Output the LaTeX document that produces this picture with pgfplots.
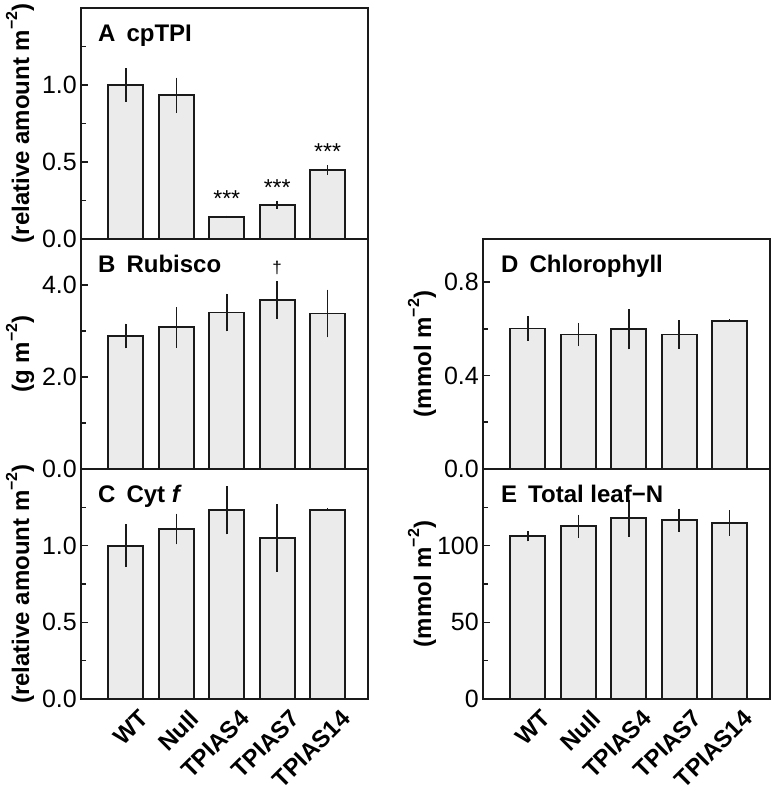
\documentclass[border=0pt]{standalone}
\usepackage{pgfplots}
\pgfplotsset{compat=1.18}
\usepackage{pgfplotstable}
\usepackage{fontspec}
\setmainfont{Liberation Sans}
\definecolor{barfill}{HTML}{EBEBEB}
\definecolor{ink}{HTML}{1A1A1A}

\pgfplotstableread{
x y e
0 1.000 0.110
1 0.933 0.115
2 0.143 0.008
3 0.223 0.025
4 0.448 0.032
}\dataA
\pgfplotstableread{
x y e
0 2.89 0.27
1 3.08 0.44
2 3.40 0.41
3 3.67 0.41
4 3.38 0.52
}\dataB
\pgfplotstableread{
x y e
0 1.000 0.140
1 1.109 0.100
2 1.230 0.157
3 1.050 0.220
4 1.235 0.008
}\dataC
\pgfplotstableread{
x y e
0 0.602 0.052
1 0.576 0.050
2 0.598 0.086
3 0.576 0.060
4 0.635 0.006
}\dataD
\pgfplotstableread{
x y e
0 106.1 3.3
1 112.6 7.5
2 117.8 12.0
3 116.5 7.6
4 114.8 8.2
}\dataE

\tikzset{
  ttl/.style={anchor=base west, inner sep=0pt, font=\bfseries\fontsize{24}{24}\selectfont},
  stars/.style={anchor=base, inner sep=0pt, font=\fontsize{23}{23}\selectfont},
}
\pgfplotsset{
  panel/.style={
    scale only axis, width=287pt, height=230pt,
    anchor=south west,
    xmin=-0.89, xmax=4.80, ymin=0,
    axis line style={line width=1.9pt, ink},
    tick align=inside, ytick pos=left, xtick pos=bottom,
    major tick length=7pt, minor tick length=4.5pt,
    tick style={line width=1.6pt, ink},
    yticklabel style={font=\fontsize{25}{25}\selectfont, inner xsep=0pt, xshift=-4pt},
    /pgf/number format/assume math mode=true,
    xtick=\empty,
    ybar, bar width=35pt,
    clip=false, axis on top,
  },
  xlabs/.style={
    xtick={0,1,2,3,4},
    xticklabels={WT,Null,TPIAS4,TPIAS7,TPIAS14},
    xtick style={draw=none},
    xticklabel style={rotate=45, anchor=north east, inner sep=0pt,
      font=\bfseries\fontsize{24}{24}\selectfont, xshift=7pt, yshift=-10pt},
  },
  barstyle/.style={fill=barfill, draw=ink, line width=1.8pt,
    error bars/.cd, y dir=both, y explicit, error mark=none,
    error bar style={line width=1.6pt, ink}},
}

\begin{document}
\begin{tikzpicture}
\useasboundingbox (0pt,0pt) rectangle (775pt,792pt);

% Panel A
\begin{axis}[panel, at={(81pt,553pt)}, height=231pt, ymax=1.5,
  ytick={0,0.5,1.0}, yticklabels={0.0,0.5,1.0}, minor ytick={0.25,0.75,1.25}]
\addplot[barstyle] table[x=x,y=y,y error=e]{\dataA};
\node[ttl] at (rel axis cs:0,1) [xshift=17pt, yshift=-34pt] {A\hspace{11pt}cpTPI};
\node[stars] at (axis cs:2,0.214) {***};
\node[stars] at (axis cs:3,0.282) {***};
\node[stars] at (axis cs:4,0.515) {***};
\end{axis}

% Panel B
\begin{axis}[panel, at={(81pt,323pt)}, ymax=5,
  ytick={0,2,4}, yticklabels={0.0,2.0,4.0}, minor ytick={1,3}]
\addplot[barstyle] table[x=x,y=y,y error=e]{\dataB};
\node[ttl] at (rel axis cs:0,1) [xshift=17pt, yshift=-34pt] {B\hspace{11pt}Rubisco};
\node[anchor=base, inner sep=0pt, font=\fontsize{17}{17}\selectfont] at (axis cs:3,4.26) {†};
\end{axis}

% Panel C
\begin{axis}[panel, xlabs, at={(81pt,93pt)}, ymax=1.5,
  ytick={0,0.5,1.0}, yticklabels={0.0,0.5,1.0}, minor ytick={0.25,0.75,1.25}]
\addplot[barstyle] table[x=x,y=y,y error=e]{\dataC};
\node[ttl] at (rel axis cs:0,1) [xshift=17pt, yshift=-34pt] {C\hspace{11pt}Cyt \textit{f}};
\end{axis}

% Panel D
\begin{axis}[panel, at={(483pt,323pt)}, ymax=0.985,
  ytick={0,0.4,0.8}, yticklabels={0.0,0.4,0.8}, minor ytick={0.2,0.6}]
\addplot[barstyle] table[x=x,y=y,y error=e]{\dataD};
\node[ttl] at (rel axis cs:0,1) [xshift=18pt, yshift=-34pt] {D\hspace{11pt}Chlorophyll};
\end{axis}

% Panel E
\begin{axis}[panel, xlabs, at={(483pt,93pt)}, ymax=150,
  ytick={0,50,100}, yticklabels={0,50,100}, minor ytick={25,75,125}]
\addplot[barstyle] table[x=x,y=y,y error=e]{\dataE};
\node[ttl] at (rel axis cs:0,1) [xshift=18pt, yshift=-34pt] {E\hspace{11pt}Total leaf−N};
\end{axis}

% y-axis labels
\begin{scope}[every node/.style={rotate=90, anchor=base, inner sep=0pt, font=\bfseries\fontsize{24}{24}\selectfont}]
\node at (29pt,668.5pt) {(relative amount m\raisebox{0.5em}{\fontsize{16}{16}\selectfont −2})};
\node at (29pt,438pt) {(g m\raisebox{0.5em}{\fontsize{16}{16}\selectfont −2})};
\node at (29pt,208pt) {(relative amount m\raisebox{0.5em}{\fontsize{16}{16}\selectfont −2})};
\node at (431pt,438pt) {(mmol m\raisebox{0.5em}{\fontsize{16}{16}\selectfont −2})};
\node at (431pt,208pt) {(mmol m\raisebox{0.5em}{\fontsize{16}{16}\selectfont −2})};
\end{scope}
\end{tikzpicture}
\end{document}
